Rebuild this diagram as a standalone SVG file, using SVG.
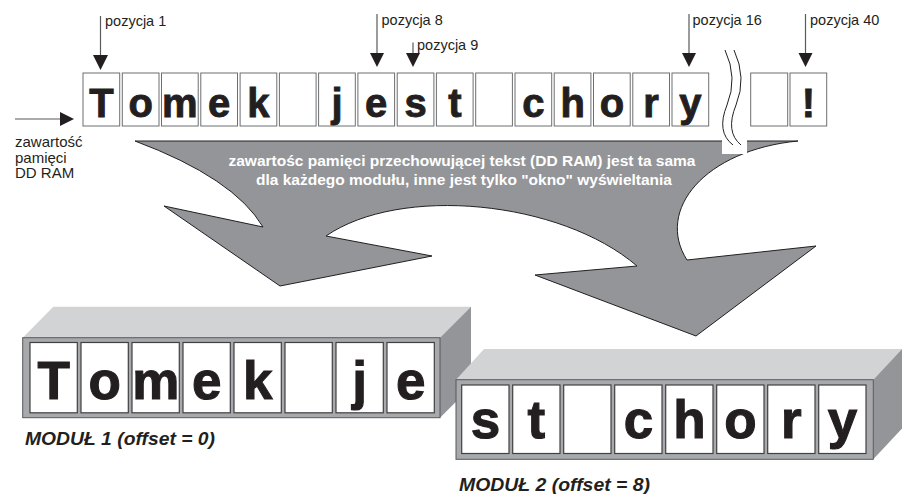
<svg xmlns="http://www.w3.org/2000/svg" width="903" height="494" viewBox="0 0 903 494">
  <defs>
    <style>
      .lbl { font-family: "Liberation Sans", Arial, sans-serif; font-size: 14.5px; fill: #231f20; }
      .side { font-family: "Liberation Sans", Arial, sans-serif; font-size: 15px; fill: #231f20; }
      .cell { fill: #ffffff; stroke: #6d6e71; stroke-width: 1; }
      .mcell { fill: #ffffff; stroke: #414042; stroke-width: 1.2; }
      .ch { font-family: "Liberation Sans", Arial, sans-serif; font-weight: bold; font-size: 40px; fill: #231f20; stroke: #231f20; stroke-width: 0.9; text-anchor: middle; }
      .mch { font-family: "Liberation Sans", Arial, sans-serif; font-weight: bold; font-size: 53px; fill: #231f20; stroke: #231f20; stroke-width: 1.1; text-anchor: middle; }
      .note { font-family: "Liberation Sans", Arial, sans-serif; font-weight: bold; font-size: 14.5px; fill: #ffffff; text-anchor: middle; }
      .mod { font-family: "Liberation Sans", Arial, sans-serif; font-weight: bold; font-style: italic; font-size: 18px; fill: #231f20; }
      .ptr { stroke: #58595b; stroke-width: 1.2; fill: none; }
      .head { fill: #231f20; }
      .front { fill: #a7a9ac; stroke: #58595b; stroke-width: 1; }
      .top { fill: #d1d3d4; }
      .sidef { fill: #939598; }
      .wave { fill: none; stroke: #231f20; stroke-width: 1; }
    </style>
  </defs>

  <!-- shared curved arrow: same DD RAM content for every module -->
  <g id="shared-arrow">
    <path d="M135,141 L798,141 C705,150 655,210 687,260 L816,246 L696,336 L535,275 L637,266 C560,200 400,185 326,236 L432,256 L280,286 L164,206 L263,227 Q234,178 135,141 Z" fill="#939598" stroke="#231f20" stroke-width="1"/>
    <text class="note" x="462" y="166" textLength="467" lengthAdjust="spacingAndGlyphs">zawartośc pamięci przechowującej tekst (DD RAM) jest ta sama</text>
    <text class="note" x="464" y="185" textLength="416" lengthAdjust="spacingAndGlyphs">dla każdego modułu, inne jest tylko "okno" wyświeltania</text>
  </g>

  <!-- DD RAM row, positions 1..16 -->
  <g id="ddram-row">
    <rect class="cell" x="83" y="73" width="36.7" height="53"/>
    <rect class="cell" x="122.3" y="73" width="36.7" height="53"/>
    <rect class="cell" x="161.5" y="73" width="36.7" height="53"/>
    <rect class="cell" x="200.8" y="73" width="36.7" height="53"/>
    <rect class="cell" x="240.1" y="73" width="36.7" height="53"/>
    <rect class="cell" x="279.4" y="73" width="36.7" height="53"/>
    <rect class="cell" x="318.6" y="73" width="36.7" height="53"/>
    <rect class="cell" x="357.9" y="73" width="36.7" height="53"/>
    <rect class="cell" x="397.2" y="73" width="36.7" height="53"/>
    <rect class="cell" x="436.4" y="73" width="36.7" height="53"/>
    <rect class="cell" x="475.7" y="73" width="36.7" height="53"/>
    <rect class="cell" x="515" y="73" width="36.7" height="53"/>
    <rect class="cell" x="554.2" y="73" width="36.7" height="53"/>
    <rect class="cell" x="593.5" y="73" width="36.7" height="53"/>
    <rect class="cell" x="632.8" y="73" width="36.7" height="53"/>
    <rect class="cell" x="672" y="73" width="36.7" height="53"/>
    <text class="ch" x="101.4" y="117">T</text>
    <text class="ch" x="140.6" y="117">o</text>
    <text class="ch" x="179.9" y="117">m</text>
    <text class="ch" x="219.2" y="117">e</text>
    <text class="ch" x="258.4" y="117">k</text>
    <text class="ch" x="337" y="117">j</text>
    <text class="ch" x="376.2" y="117">e</text>
    <text class="ch" x="415.5" y="117">s</text>
    <text class="ch" x="454.8" y="117">t</text>
    <text class="ch" x="533.3" y="117">c</text>
    <text class="ch" x="572.6" y="117">h</text>
    <text class="ch" x="611.9" y="117">o</text>
    <text class="ch" x="651.1" y="117">r</text>
    <text class="ch" x="690.4" y="117">y</text>
  </g>

  <!-- gap in the row (positions 17..38 omitted) -->
  <g id="row-break">
    <rect x="722" y="44" width="25" height="110" fill="#ffffff"/>
    <path class="wave" d="M725,50 Q738,78 727,105 T733,145"/>
    <path class="wave" d="M734,50 Q747,78 736,105 T741,145"/>
  </g>

  <!-- positions 39 and 40 -->
  <g id="ddram-tail">
    <rect class="cell" x="750.7" y="73" width="37" height="53"/>
    <rect class="cell" x="790" y="73" width="36.7" height="53"/>
    <text class="ch" x="808.4" y="117">!</text>
  </g>

  <g id="memory-label">
    <text class="side" x="15" y="147">zawartość</text>
    <text class="side" x="15" y="162.5">pamięci</text>
    <text class="side" x="15" y="178">DD RAM</text>
  </g>

  <!-- position pointers and the input arrow -->
  <g id="connectors">
    <line class="ptr" x1="15" y1="119" x2="62" y2="119"/>
    <polygon class="head" points="60,112 74,119 60,126"/>

    <line class="ptr" x1="100.5" y1="16" x2="100.5" y2="56"/>
    <polygon class="head" points="93,55 108,55 100.5,70"/>
    <text class="lbl" x="105" y="26">pozycja 1</text>

    <line class="ptr" x1="377" y1="14" x2="377" y2="54"/>
    <polygon class="head" points="370,53 384,53 377,67"/>
    <text class="lbl" x="381.5" y="25">pozycja 8</text>

    <line class="ptr" x1="413" y1="42.5" x2="413" y2="54"/>
    <polygon class="head" points="406,53 420,53 413,67"/>
    <text class="lbl" x="417" y="50">pozycja 9</text>

    <line class="ptr" x1="689" y1="14" x2="689" y2="54"/>
    <polygon class="head" points="682,53 696,53 689,67"/>
    <text class="lbl" x="692.5" y="25">pozycja 16</text>

    <line class="ptr" x1="805.5" y1="14" x2="805.5" y2="54"/>
    <polygon class="head" points="798.5,53 812.5,53 805.5,67"/>
    <text class="lbl" x="810" y="25">pozycja 40</text>
  </g>

  <!-- display module 1, offset 0 -->
  <g id="module-1">
    <polygon class="top" points="22.7,337.7 53.3,306.7 471,306.7 440,337.7"/>
    <polygon class="sidef" points="440,337.7 471,306.7 471,386.7 440,417.7"/>
    <rect class="front" x="22.7" y="337.7" width="417.3" height="80"/>
    <rect class="mcell" x="30" y="342.5" width="47.3" height="70.3"/>
    <rect class="mcell" x="81" y="342.5" width="47.3" height="70.3"/>
    <rect class="mcell" x="132" y="342.5" width="47.3" height="70.3"/>
    <rect class="mcell" x="183" y="342.5" width="47.3" height="70.3"/>
    <rect class="mcell" x="234" y="342.5" width="47.3" height="70.3"/>
    <rect class="mcell" x="285" y="342.5" width="47.3" height="70.3"/>
    <rect class="mcell" x="336" y="342.5" width="47.3" height="70.3"/>
    <rect class="mcell" x="387" y="342.5" width="47.3" height="70.3"/>
    <text class="mch" x="53.7" y="398.5">T</text>
    <text class="mch" x="104.7" y="398.5">o</text>
    <text class="mch" x="155.7" y="398.5">m</text>
    <text class="mch" x="206.7" y="398.5">e</text>
    <text class="mch" x="257.7" y="398.5">k</text>
    <text class="mch" x="359.7" y="398.5">j</text>
    <text class="mch" x="410.7" y="398.5">e</text>
    <text class="mod" x="25" y="445" textLength="190" lengthAdjust="spacingAndGlyphs">MODUŁ 1 (offset = 0)</text>
  </g>

  <!-- display module 2, offset 8 -->
  <g id="module-2">
    <polygon class="top" points="456,379.7 484,349 902,349 873.3,379.7"/>
    <polygon class="sidef" points="873.3,379.7 902,349 902,428.5 873.3,459.3"/>
    <rect class="front" x="456" y="379.7" width="417.3" height="79.6"/>
    <rect class="mcell" x="461.7" y="385" width="47.3" height="68.5"/>
    <rect class="mcell" x="512.7" y="385" width="47.3" height="68.5"/>
    <rect class="mcell" x="563.7" y="385" width="47.3" height="68.5"/>
    <rect class="mcell" x="614.7" y="385" width="47.3" height="68.5"/>
    <rect class="mcell" x="665.7" y="385" width="47.3" height="68.5"/>
    <rect class="mcell" x="716.7" y="385" width="47.3" height="68.5"/>
    <rect class="mcell" x="767.7" y="385" width="47.3" height="68.5"/>
    <rect class="mcell" x="818.7" y="385" width="47.3" height="68.5"/>
    <text class="mch" x="485.4" y="437.5">s</text>
    <text class="mch" x="536.4" y="437.5">t</text>
    <text class="mch" x="638.4" y="437.5">c</text>
    <text class="mch" x="689.4" y="437.5">h</text>
    <text class="mch" x="740.4" y="437.5">o</text>
    <text class="mch" x="791.4" y="437.5">r</text>
    <text class="mch" x="842.4" y="437.5">y</text>
    <text class="mod" x="459" y="491" textLength="191" lengthAdjust="spacingAndGlyphs">MODUŁ 2 (offset = 8)</text>
  </g>
</svg>
